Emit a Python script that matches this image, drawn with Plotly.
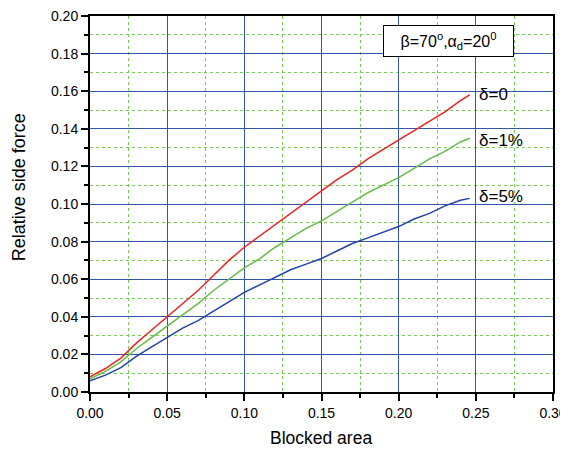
import plotly.graph_objects as go

x = [0, 0.01, 0.02, 0.03, 0.04, 0.05, 0.06, 0.07, 0.08, 0.09, 0.10, 0.11, 0.12,
     0.13, 0.14, 0.15, 0.16, 0.17, 0.18, 0.19, 0.20, 0.21, 0.22, 0.23, 0.24, 0.246]
red = [0.008, 0.0125, 0.018, 0.026, 0.033, 0.040, 0.047, 0.054, 0.062, 0.070, 0.077,
       0.083, 0.089, 0.095, 0.101, 0.107, 0.113, 0.118, 0.124, 0.129, 0.134, 0.139,
       0.144, 0.149, 0.155, 0.158]
green = [0.007, 0.011, 0.016, 0.023, 0.029, 0.035, 0.041, 0.047, 0.054, 0.060, 0.066,
         0.071, 0.077, 0.082, 0.087, 0.091, 0.096, 0.101, 0.106, 0.110, 0.114, 0.119,
         0.124, 0.128, 0.133, 0.135]
blue = [0.006, 0.009, 0.013, 0.019, 0.024, 0.029, 0.034, 0.038, 0.043, 0.048, 0.053,
        0.057, 0.061, 0.065, 0.068, 0.071, 0.075, 0.079, 0.082, 0.085, 0.088, 0.092,
        0.095, 0.099, 0.102, 0.103]
labels = ["δ=0", "δ=1%", "δ=5%"]
label_y = [0.158, 0.134, 0.104]

fig = go.Figure()
for ys, c in [(red, "#ee2222"), (green, "#66bb44"), (blue, "#2244aa")]:
    fig.add_trace(go.Scatter(x=x, y=ys, mode="lines", line=dict(color=c, width=1.5),
                             showlegend=False, hoverinfo="skip"))

for t, yv in zip(labels, label_y):
    fig.add_annotation(x=0.2505, y=yv, text=t, showarrow=False, xanchor="left",
                       yanchor="middle", font=dict(size=17, color="black"))

fig.add_annotation(xref="paper", yref="paper", x=0.774, y=0.934,
                   text="β=70<sup>o</sup>,α<sub>d</sub>=20<sup>0</sup>",
                   showarrow=False, xanchor="center", yanchor="middle",
                   bordercolor="black", borderwidth=1, bgcolor="white",
                   width=127, height=28, font=dict(size=16, color="black"))

# axis titles
fig.add_annotation(xref="paper", yref="paper", x=0.499, y=-0.122, text="Blocked area",
                   showarrow=False, xanchor="center", yanchor="middle",
                   font=dict(size=17.5, color="black"))
fig.add_annotation(xref="paper", yref="paper", x=-0.153, y=0.545, text="Relative side force",
                   showarrow=False, xanchor="center", yanchor="middle", textangle=-90,
                   font=dict(size=18, color="black"))

axis_common = dict(
    showline=True, linecolor="black", linewidth=2, mirror=True,
    ticks="outside", ticklen=7, tickwidth=1.5, tickcolor="black",
    showgrid=True, gridcolor="#3355aa", gridwidth=1.2, zeroline=False,
    tickfont=dict(size=14, color="black"), automargin=False,
    ticklabeloverflow="allow",
)

fig.update_xaxes(range=[0, 0.30], dtick=0.05, tickformat=".2f",
                 minor=dict(dtick=0.025, ticks="outside", ticklen=4, tickcolor="black",
                            showgrid=True, gridcolor="#77cc55", griddash="dot", gridwidth=1),
                 **axis_common)
fig.update_yaxes(range=[0, 0.20], dtick=0.02, tickformat=".2f",
                 minor=dict(dtick=0.01, ticks="outside", ticklen=4, tickcolor="black",
                            showgrid=True, gridcolor="#77cc55", griddash="dot", gridwidth=1),
                 **axis_common)

# page body has an 8px default margin, so offset the figure accordingly
fig.update_layout(width=560, height=445, margin=dict(l=82, r=15, t=8, b=61),
                  plot_bgcolor="white", paper_bgcolor="white",
                  font=dict(family="Liberation Sans, Arial, sans-serif"))

fig.write_html("out.html")
